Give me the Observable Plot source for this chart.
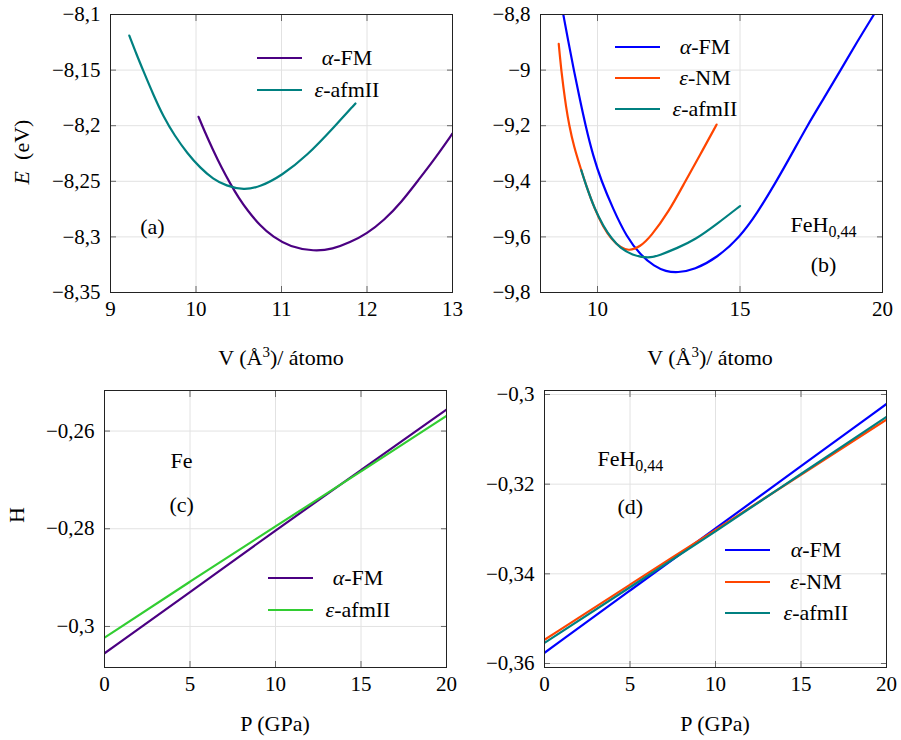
<!DOCTYPE html>
<html><head><meta charset="utf-8">
<script src="https://cdn.jsdelivr.net/npm/d3@7"></script>
<script src="https://cdn.jsdelivr.net/npm/@observablehq/plot@0.6"></script>
<style>
body{margin:0;background:#fff;}
#fig{position:relative;width:901px;height:740px;font-family:"Liberation Serif","DejaVu Serif","Noto Serif",serif;color:#000;overflow:hidden;}
.panel{position:absolute;}
.lab{position:absolute;font-size:22px;line-height:22px;white-space:nowrap;}
.ylab{position:absolute;font-size:22px;line-height:22px;white-space:nowrap;transform:translate(-50%,-50%) rotate(-90deg);}
.sw{position:absolute;height:2px;width:45px;}
.lt{position:absolute;font-size:22px;line-height:22px;white-space:nowrap;transform:translate(-50%,-50%);}
</style></head><body><div id="fig"></div>
<script>
// ---------- data ----------
// (a) Fe: E(V)
const a_alphaFM = [[10.03,-8.192],[10.1,-8.205],[10.2,-8.222],[10.3,-8.238],[10.4,-8.252],[10.5,-8.265],[10.6,-8.276],[10.75,-8.290],[10.9,-8.300],[11.1,-8.309],[11.38,-8.313],[11.6,-8.311],[11.8,-8.305],[12.0,-8.297],[12.2,-8.285],[12.4,-8.269],[12.6,-8.249],[12.8,-8.229],[13.0,-8.207]];
const a_epsAfmII = [[9.22,-8.119],[9.3,-8.135],[9.38,-8.15],[9.5,-8.172],[9.62,-8.192],[9.75,-8.209],[9.9,-8.225],[10.05,-8.238],[10.2,-8.248],[10.35,-8.254],[10.56,-8.258],[10.75,-8.255],[11.0,-8.245],[11.3,-8.227],[11.63,-8.2],[11.865,-8.18]];
// (b) FeH0,44: E(V)
const b_alphaFM = [[8.8,-8.8],[9.0,-8.91],[9.17,-9.0],[9.35,-9.09],[9.58,-9.2],[9.85,-9.31],[10.14,-9.4],[10.55,-9.5],[11.02,-9.6],[11.5,-9.664],[12.0,-9.707],[12.4,-9.724],[12.8,-9.729],[13.4,-9.718],[14.2,-9.675],[15.0,-9.6],[15.6,-9.515],[16.25,-9.405],[16.8,-9.305],[17.36,-9.2],[17.95,-9.1],[18.53,-9.0],[19.1,-8.9],[19.7,-8.8]];
const b_epsNM = [[8.64,-8.906],[8.68,-8.95],[8.73,-9.0],[8.8,-9.06],[8.9,-9.135],[9.0,-9.195],[9.17,-9.275],[9.43,-9.36],[9.6,-9.415],[9.9,-9.5],[10.2,-9.565],[10.5,-9.61],[10.8,-9.638],[11.1,-9.651],[11.5,-9.635],[11.86,-9.6],[12.5,-9.51],[13.08,-9.4],[13.6,-9.305],[14.18,-9.196]];
const b_epsAfmII = [[9.43,-9.36],[9.6,-9.415],[9.9,-9.5],[10.2,-9.56],[10.5,-9.607],[10.8,-9.64],[11.2,-9.665],[11.8,-9.678],[12.2,-9.665],[12.8,-9.64],[13.4,-9.612],[14.2,-9.553],[15.0,-9.489]];
// (c) Fe: H(P)
const c_alphaFM = [[0,-0.3055],[5,-0.2930],[10,-0.2803],[15,-0.2680],[20,-0.2556]];
const c_epsAfmII = [[0,-0.3023],[5,-0.2908],[10,-0.2795],[15,-0.2683],[20,-0.2569]];
// (d) FeH0,44: H(P)
const d_alphaFM = [[0,-0.3576],[5,-0.3437],[10,-0.3299],[15,-0.3160],[20,-0.3021]];
const d_epsNM = [[0,-0.3547],[5,-0.3424],[10,-0.3302],[15,-0.3179],[20,-0.3056]];
const d_epsAfmII = [[0,-0.3554],[5,-0.3430],[10,-0.3306],[15,-0.3177],[20,-0.3050]];

// ticks
const xTicksA = [9,10,11,12,13];
const yTicksA = [-8.35,-8.3,-8.25,-8.2,-8.15,-8.1];
const xTicksB = [10,15,20];
const yTicksB = [-9.8,-9.6,-9.4,-9.2,-9,-8.8];
const xTicksCD = [0,5,10,15,20];
const yTicksC = [-0.3,-0.28,-0.26];
const yTicksD = [-0.36,-0.34,-0.32,-0.3];

// annotations
const notesA = [{x:9.49,y:-8.2915,t:"(a)"}];
const notesB = [{x:17.93,y:-9.556,t:"FeH_0,44"},{x:17.93,y:-9.70,t:"(b)"}];
const notesC = [{x:4.51,y:-0.2662,t:"Fe"},{x:4.51,y:-0.2752,t:"(c)"}];
const notesD = [{x:5.02,y:-0.3143,t:"FeH_0,44"},{x:5.02,y:-0.3250,t:"(d)"}];

// series names / colours
const nameAlphaFM = "<i>α</i>-FM";
const nameEpsNM = "<i>ε</i>-NM";
const nameEpsAfmII = "<i>ε</i>-afmII";
const cPurple = "#4b0082", cTeal = "#008080", cBlue = "#0000ff", cOrange = "#ff4500", cGreen = "#32cd32";

// ---------- drawing ----------
const FONT = "'Liberation Serif', 'DejaVu Serif', 'Noto Serif', serif";
const loc = d3.formatLocale({decimal: ",", thousands: ".", grouping: [3], currency: ["", ""], minus: "\u2212"});
const fmt = loc.format("~g");
const fig = document.getElementById("fig");

function panel(cfg) {
  const series = cfg.series.map(s => Plot.line(s.data, {x: d => d[0], y: d => d[1], stroke: s.color, strokeWidth: 2.2, curve: "basis", clip: true}));
  const tickStyle = {stroke: "#666", strokeWidth: 1, tickFormat: () => "", label: null};
  const chart = Plot.plot({
    width: cfg.width, height: cfg.height,
    marginLeft: cfg.mL, marginRight: cfg.mR, marginTop: cfg.mT, marginBottom: cfg.mB,
    style: {fontFamily: FONT, fontSize: "21px", color: "#000", background: "transparent", overflow: "visible"},
    x: {domain: cfg.xDomain},
    y: {domain: cfg.yDomain},
    marks: [
      Plot.gridX(cfg.xTicks, {stroke: "#e2e2e2", strokeOpacity: 1, strokeWidth: 1}),
      Plot.gridY(cfg.yTicks, {stroke: "#e2e2e2", strokeOpacity: 1, strokeWidth: 1}),
      ...series,
      Plot.text(cfg.notes, {x: "x", y: "y", text: "t", fontSize: 22, fill: "#000", fontFamily: FONT}),
      Plot.axisX(cfg.xTicks, {anchor: "bottom", tickSize: 0, tickPadding: 9, tickFormat: fmt, label: null, fontSize: 21, fontFamily: FONT}),
      Plot.axisY(cfg.yTicks, {anchor: "left", tickSize: 0, tickPadding: 10, tickFormat: fmt, label: null, fontSize: 21, fontFamily: FONT}),
      Plot.axisX(cfg.xTicks, {anchor: "bottom", tickSize: 6, dy: -6, ...tickStyle}),
      Plot.axisX(cfg.xTicks, {anchor: "top", tickSize: 6, dy: 6, ...tickStyle}),
      Plot.axisY(cfg.yTicks, {anchor: "left", tickSize: 6, dx: 6, ...tickStyle}),
      Plot.axisY(cfg.yTicks, {anchor: "right", tickSize: 6, dx: -6, ...tickStyle}),
      Plot.frame({stroke: "#222", strokeWidth: 1})
    ]
  });
  // subscripts
  d3.select(chart).selectAll("text").each(function () {
    const t = this.textContent;
    if (t.includes("_")) {
      const [a, b] = t.split("_");
      const s = d3.select(this);
      s.text(null);
      s.append("tspan").text(a);
      s.append("tspan").attr("font-size", 16).attr("dy", "0.32em").text(b);
    }
  });
  const div = document.createElement("div");
  div.className = "panel";
  div.style.left = cfg.left + "px";
  div.style.top = cfg.top + "px";
  div.appendChild(chart);
  fig.appendChild(div);
}

function label(html, x, y, rotated) {
  const d = document.createElement("div");
  d.className = rotated ? "ylab" : "lab";
  d.innerHTML = html;
  d.style.left = x + "px";
  d.style.top = y + "px";
  if (!rotated) d.style.transform = "translateX(-50%)";
  fig.appendChild(d);
}

function legend(items, swLeft, firstY, gap, textX) {
  items.forEach((it, i) => {
    const y = Math.round(firstY + i * gap);
    const sw = document.createElement("div");
    sw.className = "sw";
    sw.style.left = swLeft + "px";
    sw.style.top = (y - 1) + "px";
    sw.style.background = it.color;
    fig.appendChild(sw);
    const t = document.createElement("div");
    t.className = "lt";
    t.innerHTML = it.name;
    t.style.left = textX + "px";
    t.style.top = y + "px";
    fig.appendChild(t);
  });
}

panel({left: 0, top: 0, width: 460, height: 330, mL: 110, mR: 8, mT: 14, mB: 38,
  xDomain: [9, 13], yDomain: [-8.35, -8.1], xTicks: xTicksA, yTicks: yTicksA,
  series: [{data: a_alphaFM, color: cPurple}, {data: a_epsAfmII, color: cTeal}], notes: notesA});
panel({left: 450, top: 0, width: 451, height: 330, mL: 90, mR: 19, mT: 14, mB: 38,
  xDomain: [8, 20], yDomain: [-9.8, -8.8], xTicks: xTicksB, yTicks: yTicksB,
  series: [{data: b_alphaFM, color: cBlue}, {data: b_epsNM, color: cOrange}, {data: b_epsAfmII, color: cTeal}], notes: notesB});
panel({left: 0, top: 370, width: 460, height: 330, mL: 104, mR: 14, mT: 20, mB: 33,
  xDomain: [0, 20], yDomain: [-0.3084, -0.2517], xTicks: xTicksCD, yTicks: yTicksC,
  series: [{data: c_alphaFM, color: cPurple}, {data: c_epsAfmII, color: cGreen}], notes: notesC});
panel({left: 450, top: 370, width: 451, height: 330, mL: 94, mR: 15, mT: 20, mB: 33,
  xDomain: [0, 20], yDomain: [-0.36089, -0.29911], xTicks: xTicksCD, yTicks: yTicksD,
  series: [{data: d_alphaFM, color: cBlue}, {data: d_epsNM, color: cOrange}, {data: d_epsAfmII, color: cTeal}], notes: notesD});

label("V (Å<sup style='font-size:15px'>3</sup>)/ átomo", 281, 341);
label("V (Å<sup style='font-size:15px'>3</sup>)/ átomo", 710, 341);
label("P (GPa)", 275, 713);
label("P (GPa)", 715, 713);
label("<i>E</i>&nbsp; (eV)", 22, 152, true);
label("H", 17, 515, true);

legend([{name: nameAlphaFM, color: cPurple}, {name: nameEpsAfmII, color: cTeal}], 257, 57.5, 32, 347);
legend([{name: nameAlphaFM, color: cBlue}, {name: nameEpsNM, color: cOrange}, {name: nameEpsAfmII, color: cTeal}], 615, 46.5, 31, 705);
legend([{name: nameAlphaFM, color: cPurple}, {name: nameEpsAfmII, color: cGreen}], 268, 577.5, 32.5, 358);
legend([{name: nameAlphaFM, color: cBlue}, {name: nameEpsNM, color: cOrange}, {name: nameEpsAfmII, color: cTeal}], 725, 550, 31.7, 816);
</script></body></html>
